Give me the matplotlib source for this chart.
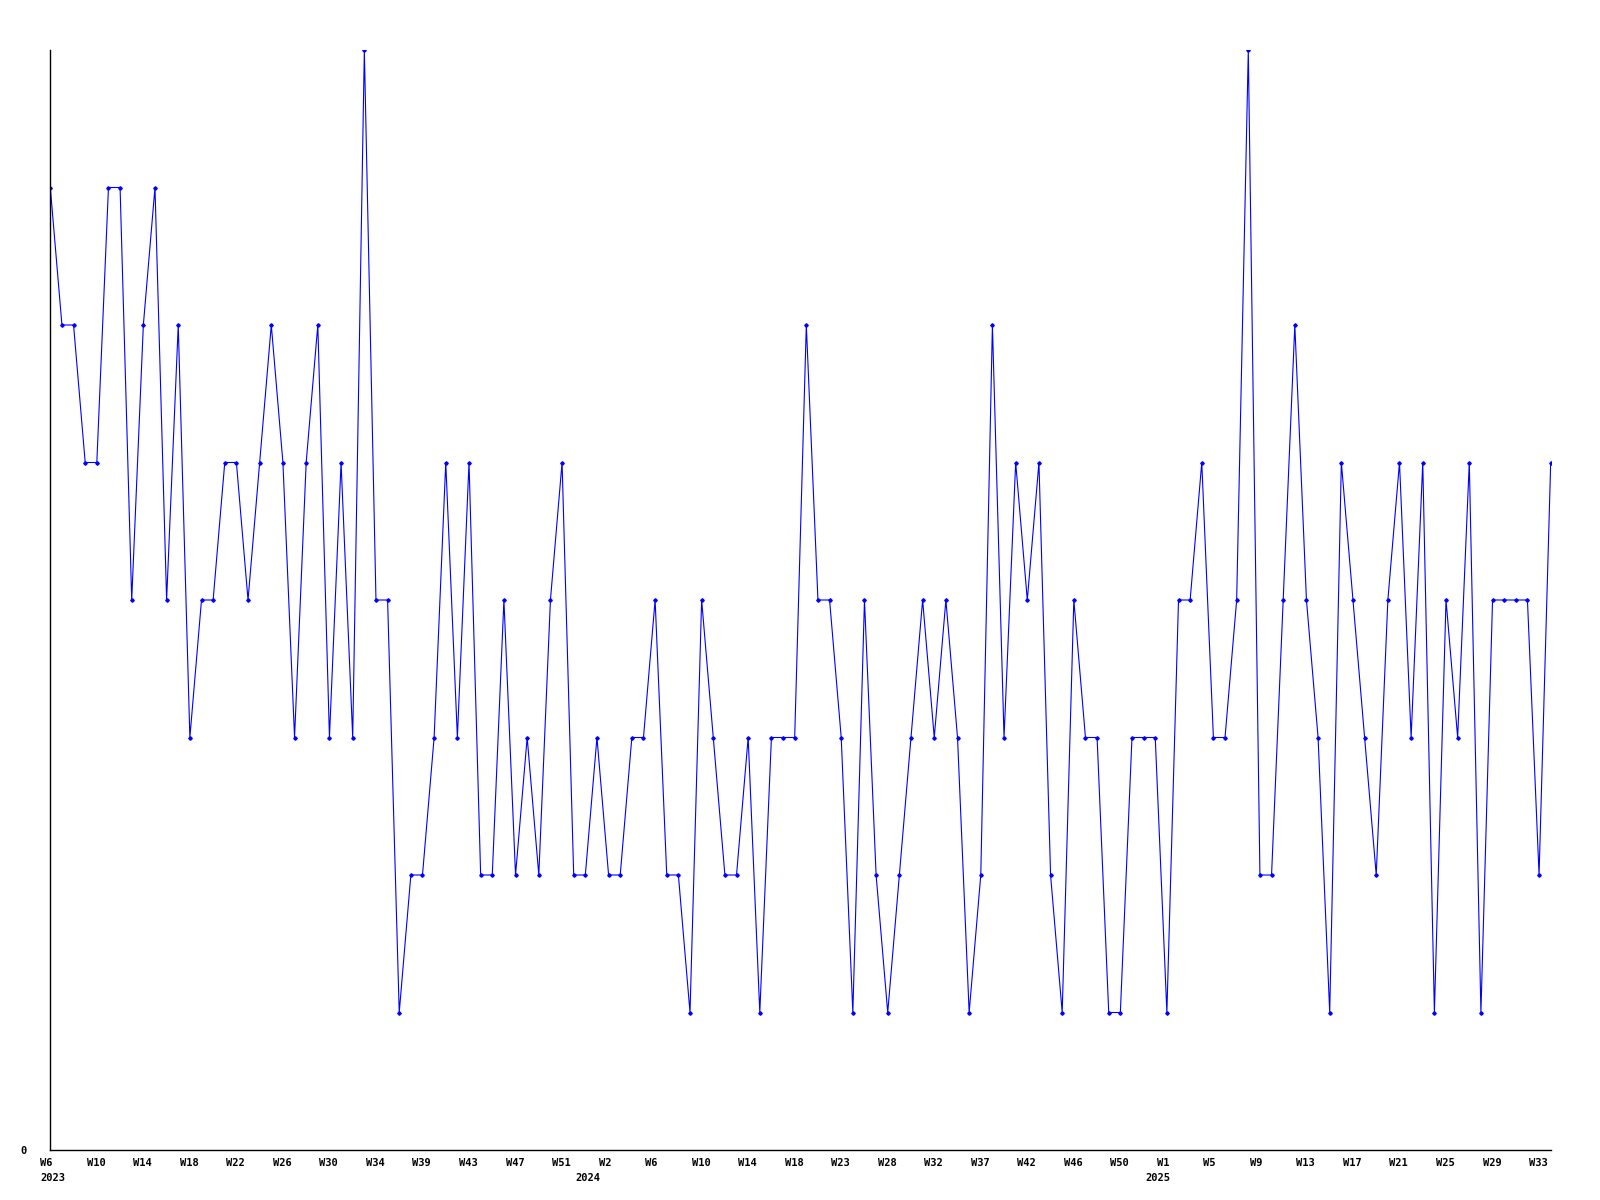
import matplotlib
matplotlib.use("Agg")
import matplotlib.pyplot as plt
import matplotlib.transforms as mtransforms

# weekly counts, one per point (130 points)
values = [7, 6, 6, 5, 5, 7, 7, 4, 6, 7, 4, 6, 3, 4, 4, 5, 5, 4, 5, 6,
          5, 3, 5, 6, 3, 5, 3, 8, 4, 4, 1, 2, 2, 3, 5, 3, 5, 2, 2, 4,
          2, 3, 2, 4, 5, 2, 2, 3, 2, 2, 3, 3, 4, 2, 2, 1, 4, 3, 2, 2,
          3, 1, 3, 3, 3, 6, 4, 4, 3, 1, 4, 2, 1, 2, 3, 4, 3, 4, 3, 1,
          2, 6, 3, 5, 4, 5, 2, 1, 4, 3, 3, 1, 1, 3, 3, 3, 1, 4, 4, 5,
          3, 3, 4, 8, 2, 2, 4, 6, 4, 3, 1, 5, 4, 3, 2, 4, 5, 3, 5, 1,
          4, 3, 5, 1, 4, 4, 4, 4, 2, 5]

# tick labels, one every 4 points
week_labels = ["W6", "W10", "W14", "W18", "W22", "W26", "W30", "W34", "W39",
               "W43", "W47", "W51", "W2", "W6", "W10", "W14", "W18", "W23",
               "W28", "W32", "W37", "W42", "W46", "W50", "W1", "W5", "W9",
               "W13", "W17", "W21", "W25", "W29", "W33"]
years = ["2023", "2024", "2025"]
year_starts = [0, 46, 95]

x = list(range(len(values)))
ticks = list(range(0, len(values), 4))[:len(week_labels)]

fig = plt.figure(figsize=(16, 12), dpi=100)
ax = fig.add_axes([50.3 / 1600, 50 / 1200, 1500.4 / 1600, 1100 / 1200])

ax.plot(x, values, color="#0000ff", lw=0.8, marker="D", ms=1.8)

ax.set_xlim(0, len(values) - 1)
ax.set_ylim(0, 8)

for s in ["top", "right"]:
    ax.spines[s].set_visible(False)
for s in ["left", "bottom"]:
    ax.spines[s].set_linewidth(1.0)
    ax.spines[s].set_color("black")

font = dict(family="DejaVu Sans Mono", weight="bold", size=7.5)

ax.set_yticks([0])
ax.set_yticklabels(["0"], **font)
ax.tick_params(axis="y", length=0, pad=17)

ax.set_xticks(ticks)
ax.set_xticklabels(week_labels, ha="left", **font)
ax.tick_params(axis="x", length=0, pad=6)
shift = mtransforms.ScaledTranslation(-10 / 100, 0, fig.dpi_scale_trans)
for lbl in ax.get_xticklabels():
    lbl.set_transform(lbl.get_transform() + shift)

year_shift = mtransforms.ScaledTranslation(-10 / 100, -23 / 100, fig.dpi_scale_trans)
for yr, pos in zip(years, year_starts):
    ax.text(pos, 0, yr, transform=ax.get_xaxis_transform() + year_shift,
            ha="left", va="top", **font)

fig.savefig("out.png", dpi=100)
